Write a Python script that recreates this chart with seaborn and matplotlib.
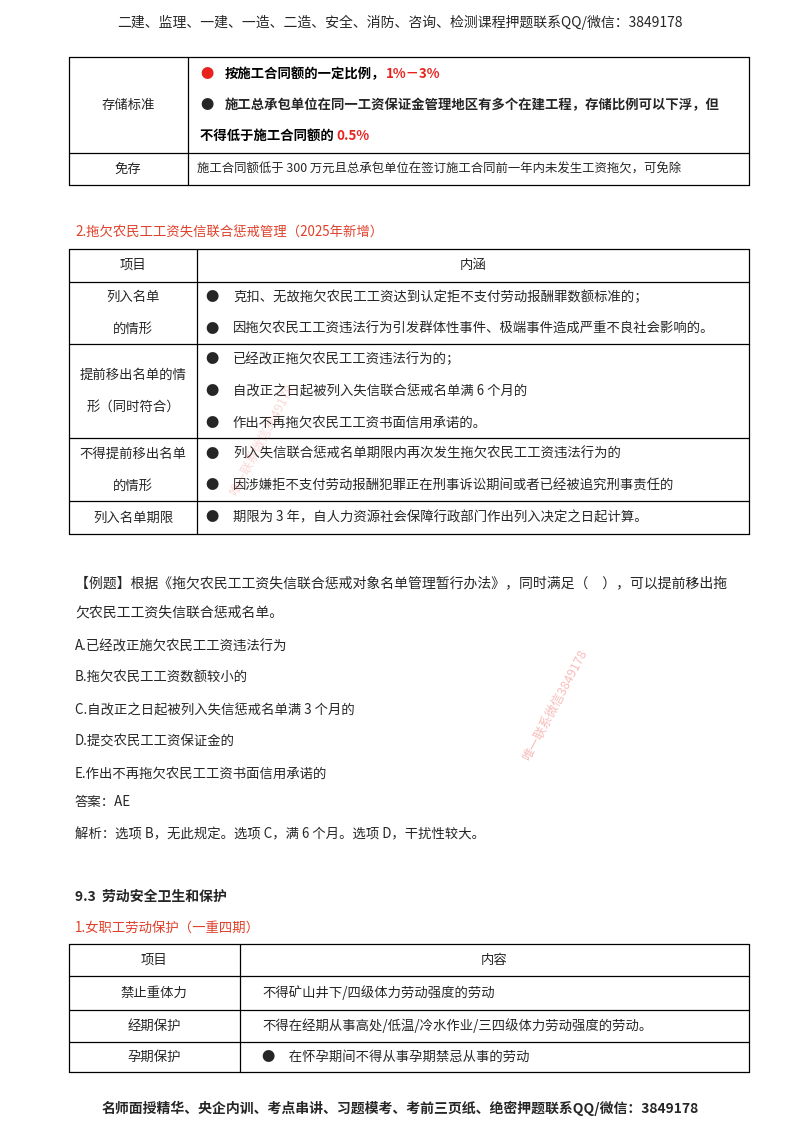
import matplotlib
matplotlib.use("Agg")
import matplotlib.pyplot as plt
import seaborn as sns

sns.set_theme(style="white")
plt.rcParams['font.family'] = ['Noto Sans CJK SC', 'DejaVu Sans']

RED = "#e8231e"
ORANGE_RED = "#e0402a"

header_text = "二建、监理、一建、一造、二造、安全、消防、咨询、检测课程押题联系QQ/微信：3849178"
footer_text = "名师面授精华、央企内训、考点串讲、习题模考、考前三页纸、绝密押题联系QQ/微信：3849178"

# table 1: storage standard
t1_rows = [57, 153, 185]
t1_labels = ["存储标准", "免存"]
t1_free = "施工合同额低于 300 万元且总承包单位在签订施工合同前一年内未发生工资拖欠，可免除"

# table 2: blacklist
t2_title = "2.拖欠农民工工资失信联合惩戒管理（2025年新增）"
t2_rows = [249, 282, 344, 438, 501, 534]
t2_header = ["项目", "内涵"]
t2_labels = [["列入名单", "的情形"], ["提前移出名单的情", "形（同时符合）"],
             ["不得提前移出名单", "的情形"], ["列入名单期限"]]
t2_items = [
    ["克扣、无故拖欠农民工工资达到认定拒不支付劳动报酬罪数额标准的；",
     "因拖欠农民工工资违法行为引发群体性事件、极端事件造成严重不良社会影响的。"],
    ["已经改正拖欠农民工工资违法行为的；",
     "自改正之日起被列入失信联合惩戒名单满 6 个月的",
     "作出不再拖欠农民工工资书面信用承诺的。"],
    ["列入失信联合惩戒名单期限内再次发生拖欠农民工工资违法行为的",
     "因涉嫌拒不支付劳动报酬犯罪正在刑事诉讼期间或者已经被追究刑事责任的"],
    ["期限为 3 年，自人力资源社会保障行政部门作出列入决定之日起计算。"],
]

# example question
q_lines = ["【例题】根据《拖欠农民工工资失信联合惩戒对象名单管理暂行办法》，同时满足（　），可以提前移出拖",
           "欠农民工工资失信联合惩戒名单。"]
q_options = ["A.已经改正施欠农民工工资违法行为", "B.拖欠农民工工资数额较小的",
             "C.自改正之日起被列入失信惩戒名单满 3 个月的", "D.提交农民工工资保证金的",
             "E.作出不再拖欠农民工工资书面信用承诺的"]
q_answer = "答案：AE"
q_analysis = "解析：选项 B，无此规定。选项 C，满 6 个月。选项 D，干扰性较大。"

# section 9.3
sec_title = "9.3  劳动安全卫生和保护"
t3_title = "1.女职工劳动保护（一重四期）"
t3_rows = [944, 976, 1010, 1042, 1072]
t3_header = ["项目", "内容"]
t3_labels = ["禁止重体力", "经期保护", "孕期保护"]
t3_items = ["不得矿山井下/四级体力劳动强度的劳动",
            "不得在经期从事高处/低温/冷水作业/三四级体力劳动强度的劳动。",
            "●　在怀孕期间不得从事孕期禁忌从事的劳动"]

fig = plt.figure(figsize=(8, 11.32), dpi=100)
ax = fig.add_axes([0, 0, 1, 1])
ax.set_xlim(0, 800)
ax.set_ylim(1132, 0)
ax.axis("off")

FS = 9.6
LW = 0.9


def table(rows, left, split, right):
    for y in rows:
        ax.plot([left, right], [y, y], color="black", lw=LW)
    for x in (left, split, right):
        ax.plot([x, x], [rows[0], rows[-1]], color="black", lw=LW)


def chain(x, y, parts, size=FS, weight="normal"):
    t = ax.text(x, y, parts[0][0], color=parts[0][1], fontsize=size,
                weight=weight, va="center")
    for s, c in parts[1:]:
        t = ax.annotate(s, xy=(1, 0), xycoords=t, va="bottom", color=c,
                        fontsize=size, weight=weight)
    return t


ax.text(400, 22, header_text, ha="center", va="center", fontsize=10)
ax.text(400, 1108, footer_text, ha="center", va="center", fontsize=10, weight="bold")

# table 1
table(t1_rows, 69, 188, 749)
ax.text(128, 105, t1_labels[0], ha="center", va="center", fontsize=FS)
ax.text(128, 169, t1_labels[1], ha="center", va="center", fontsize=FS)
ax.text(200, 74, "●", color=RED, fontsize=FS, va="center")
chain(225, 74, [("按施工合同额的一定比例，", "black"), ("1%－3%", RED)], weight="bold")
ax.text(200, 105, "●", fontsize=FS, va="center")
ax.text(225, 105, "施工总承包单位在同一工资保证金管理地区有多个在建工程，存储比例可以下浮，但",
        fontsize=FS, weight="bold", va="center")
chain(200, 136, [("不得低于施工合同额的 ", "black"), ("0.5%", RED)], weight="bold")
ax.text(197, 169, t1_free, fontsize=8.9, va="center")

# table 2
ax.text(75, 233, t2_title, color=ORANGE_RED, fontsize=FS, va="center")
table(t2_rows, 69, 197, 749)
ax.text(133, 265, t2_header[0], ha="center", va="center", fontsize=FS)
ax.text(473, 265, t2_header[1], ha="center", va="center", fontsize=FS)
for i, (lab, items) in enumerate(zip(t2_labels, t2_items)):
    top, bot = t2_rows[i + 1], t2_rows[i + 2]
    h = bot - top
    for j, l in enumerate(lab):
        ax.text(133, top + h / 2 + (j - (len(lab) - 1) / 2) * 32, l,
                ha="center", va="center", fontsize=FS)
    for j, it in enumerate(items):
        y = top + h / 2 + (j - (len(items) - 1) / 2) * 31.5
        ax.text(205, y, "●", fontsize=FS, va="center")
        ax.text(233, y, it, fontsize=FS, va="center")

# example
for j, l in enumerate(q_lines):
    ax.text(75, 583 + j * 29, l, fontsize=10, va="center")
for j, l in enumerate(q_options):
    ax.text(75, 646 + j * 32, l, fontsize=FS, va="center")
ax.text(75, 802, q_answer, fontsize=FS, va="center")
ax.text(75, 834, q_analysis, fontsize=FS, va="center")

# section 9.3
ax.text(75, 897, sec_title, fontsize=10, weight="bold", va="center")
ax.text(75, 928, t3_title, color=ORANGE_RED, fontsize=FS, va="center")
table(t3_rows, 69, 240, 749)
ax.text(154, 960, t3_header[0], ha="center", va="center", fontsize=FS)
ax.text(494, 960, t3_header[1], ha="center", va="center", fontsize=FS)
for i, (lab, it) in enumerate(zip(t3_labels, t3_items)):
    y = (t3_rows[i + 1] + t3_rows[i + 2]) / 2
    ax.text(154, y, lab, ha="center", va="center", fontsize=FS)
    ax.text(262, y, it, fontsize=FS, va="center")

# watermarks
ax.text(555, 705, "唯一联系微信3849178", color=RED, alpha=0.3, fontsize=9,
        rotation=62, ha="center", va="center")
ax.text(262, 440, "唯一联系微信3849178", color=RED, alpha=0.18, fontsize=9,
        rotation=62, ha="center", va="center")

fig.savefig("out.png", dpi=100)
